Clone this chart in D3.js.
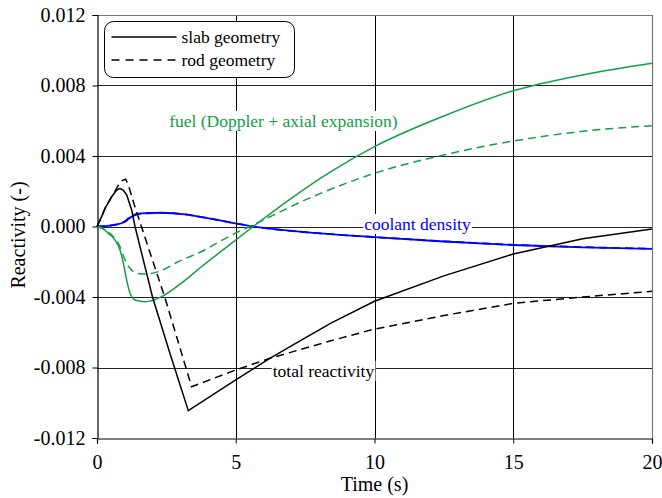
<!DOCTYPE html>
<html>
<head>
<meta charset="utf-8">
<script src="https://cdn.jsdelivr.net/npm/d3@7"></script>
<style>
  body { margin: 0; background: #fff; }
  svg text { font-family: "Liberation Serif", "Tinos", "Times New Roman", Times, "DejaVu Serif", serif !important; }
</style>
</head>
<body>
<div id="chart"></div>
<script>
// ---- data (time in s, reactivity) ----
const xTicks = [0, 5, 10, 15, 20];
const xTickLabels = ["0", "5", "10", "15", "20"];
const yTicks = [-0.012, -0.008, -0.004, 0, 0.004, 0.008, 0.012];
const yTickLabels = ["-0.012", "-0.008", "-0.004", "0.000", "0.004", "0.008", "0.012"];

const slabTotal = [[0,0],[0.15,0.0005],[0.29,0.00103],[0.53,0.00169],[0.7,0.00205],[0.83,0.00217],[0.95,0.00205],[1.07,0.00179],[1.25,0.00094],[1.37,0],[2.0,-0.004],[2.65,-0.0073],[3.29,-0.01045],[5,-0.0087],[6.23,-0.00748],[7.3,-0.0065],[8.43,-0.00548],[10,-0.00424],[12.5,-0.0028],[15,-0.00156],[17.5,-0.0007],[20,-0.00014]];
const rodTotal = [[0,0],[0.15,0.0005],[0.29,0.00103],[0.53,0.00169],[0.65,0.002],[0.77,0.00235],[0.9,0.0026],[1.03,0.00268],[1.13,0.00235],[1.35,0.0012],[1.6,0],[2.44,-0.004],[3.41,-0.00909],[5,-0.00814],[6.23,-0.00748],[8.43,-0.00648],[10,-0.00582],[12.5,-0.00505],[15,-0.00436],[17.5,-0.004],[20,-0.00368]];
const slabFuel = [[0,0],[0.2,-0.0001],[0.41,-0.00039],[0.65,-0.00077],[0.83,-0.00133],[0.95,-0.00209],[1.07,-0.00304],[1.19,-0.00379],[1.37,-0.00417],[1.73,-0.00427],[2.33,-0.00398],[3.05,-0.0032],[3.75,-0.0023],[4.97,-0.0008],[5.63,0],[7,0.0016],[8.43,0.00311],[10,0.00453],[12.5,0.00627],[15,0.0077],[17.5,0.0086],[20,0.00926]];
const rodFuel = [[0,0],[0.29,-0.0002],[0.59,-0.00058],[0.83,-0.00115],[1.01,-0.0019],[1.19,-0.00237],[1.43,-0.00266],[1.73,-0.0027],[2.21,-0.00256],[2.93,-0.002],[3.75,-0.00143],[4.97,-0.00039],[5.5,0],[7.92,0.00179],[10,0.00302],[12.5,0.00406],[15,0.00485],[17.5,0.0054],[20,0.00572]];
const slabCoolant = [[0,0],[0.4,0.00003],[0.65,0.00009],[1.01,0.00027],[1.25,0.00056],[1.61,0.00075],[2.33,0.00078],[3.17,0.00069],[3.89,0.0005],[5.63,0],[8.04,-0.00039],[10,-0.0006],[12.5,-0.00085],[15,-0.00105],[17.5,-0.00118],[20,-0.00127]];
const rodCoolant = [[0,0],[0.4,0.00003],[0.65,0.0001],[1.01,0.0003],[1.25,0.00062],[1.61,0.00074],[2.33,0.00077],[3.17,0.00069],[3.89,0.0005],[5.63,0],[8.04,-0.00039],[10,-0.0006],[12.5,-0.00084],[15,-0.00104],[17.5,-0.00117],[20,-0.00126]];

const serif = "'Liberation Serif', Tinos, 'Times New Roman', Times, 'DejaVu Serif', serif";
const green = "#13a043";
const blue = "#0000ff";

const width = 662;
const height = 498;
const margin = { top: 15, right: 10, bottom: 60, left: 97 };
const innerW = width - margin.left - margin.right;
const innerH = height - margin.top - margin.bottom;

const svg = d3.select("#chart").append("svg")
  .attr("width", width)
  .attr("height", height)
  .attr("font-family", serif);

const g = svg.append("g")
  .attr("transform", "translate(" + margin.left + "," + margin.top + ")");

const x = d3.scaleLinear().domain([0, 20]).range([0, innerW]);
const y = d3.scaleLinear().domain([-0.012, 0.012]).range([innerH, 0]);

// grid lines
g.append("g").selectAll("line").data(yTicks.slice(1, -1)).enter().append("line")
  .attr("x1", 0).attr("x2", innerW)
  .attr("y1", d => Math.round(y(d)) + 0.5).attr("y2", d => Math.round(y(d)) + 0.5)
  .attr("stroke", "#222").attr("stroke-width", 1);
g.append("g").selectAll("line").data(xTicks.slice(1, -1)).enter().append("line")
  .attr("x1", d => Math.round(x(d)) + 0.5).attr("x2", d => Math.round(x(d)) + 0.5)
  .attr("y1", 0).attr("y2", innerH)
  .attr("stroke", "#000").attr("stroke-width", 1);

// top and right border
g.append("path")
  .attr("d", "M0,0.5H" + (innerW + 0.5) + "V" + innerH)
  .attr("fill", "none").attr("stroke", "#777").attr("stroke-width", 1.2);

// axes
const yAxis = g.append("g")
  .attr("transform", "translate(0.5,0)")
  .call(d3.axisLeft(y).tickValues(yTicks).tickSize(5).tickPadding(7)
    .tickFormat((d, i) => yTickLabels[i]));
const xAxis = g.append("g")
  .attr("transform", "translate(0," + (innerH + 0.5) + ")")
  .call(d3.axisBottom(x).tickValues(xTicks).tickSize(5).tickPadding(11)
    .tickFormat((d, i) => xTickLabels[i]));
[yAxis, xAxis].forEach(a => {
  a.attr("font-family", serif);
  a.select(".domain").attr("stroke", "#000").attr("stroke-width", 1.2);
  a.selectAll(".tick line").attr("stroke", "#000");
  a.selectAll("text").attr("fill", "#000")
    .style("font-size", "20px");
});

// curves
const line = d3.line().x(d => x(d[0])).y(d => y(d[1]));
const smooth = d3.line().x(d => x(d[0])).y(d => y(d[1])).curve(d3.curveMonotoneX);
const series = [
  { data: slabCoolant, color: blue, dash: null, w: 1.8, gen: smooth },
  { data: rodCoolant, color: blue, dash: "8,5", w: 1.8, gen: smooth },
  { data: slabFuel, color: green, dash: null, w: 1.5, gen: smooth },
  { data: rodFuel, color: green, dash: "8,5", w: 1.5, gen: smooth },
  { data: slabTotal, color: "#000", dash: null, w: 1.5, gen: line },
  { data: rodTotal, color: "#000", dash: "8,5", w: 1.5, gen: line }
];
g.selectAll("path.curve").data(series).enter().append("path")
  .attr("class", "curve")
  .attr("d", d => d.gen(d.data))
  .attr("fill", "none")
  .attr("stroke", d => d.color)
  .attr("stroke-width", d => d.w)
  .attr("stroke-dasharray", d => d.dash);

// annotations with white backgrounds
const notes = [
  { text: "fuel (Doppler + axial expansion)", color: green, t: 2.6, r: 0.00565 },
  { text: "coolant density", color: blue, t: 9.63, r: -0.0002 },
  { text: "total reactivity", color: "#000", t: 6.33, r: -0.00853 }
];
notes.forEach(n => {
  const lbl = g.append("g");
  const txt = lbl.append("text")
    .attr("x", x(n.t)).attr("y", y(n.r))
    .attr("fill", n.color).style("font-size", "17.5px")
    .text(n.text);
  const bb = txt.node().getBBox();
  lbl.insert("rect", "text")
    .attr("x", bb.x - 1).attr("y", bb.y)
    .attr("width", bb.width + 2).attr("height", bb.height)
    .attr("fill", "#fff");
});

// legend
const legend = svg.append("g").attr("transform", "translate(104.5,21.5)");
legend.append("rect")
  .attr("width", 190).attr("height", 56).attr("rx", 9)
  .attr("fill", "#fff").attr("stroke", "#000").attr("stroke-width", 1);
const legendItems = [
  { label: "slab geometry", dash: null },
  { label: "rod geometry", dash: "8,6" }
];
legendItems.forEach((d, i) => {
  const yy = 15.5 + i * 23;
  legend.append("line")
    .attr("x1", 7).attr("x2", 72).attr("y1", yy).attr("y2", yy)
    .attr("stroke", "#000").attr("stroke-width", 1.5)
    .attr("stroke-dasharray", d.dash);
  legend.append("text")
    .attr("x", 77).attr("y", yy + 6)
    .style("font-size", "17.5px")
    .text(d.label);
});

// axis titles
svg.append("text")
  .attr("x", margin.left + innerW / 2).attr("y", 491)
  .attr("text-anchor", "middle").style("font-size", "20px")
  .text("Time (s)");
svg.append("text")
  .attr("transform", "translate(25,235) rotate(-90)")
  .attr("text-anchor", "middle").style("font-size", "20px")
  .text("Reactivity (-)");
</script>
</body>
</html>
